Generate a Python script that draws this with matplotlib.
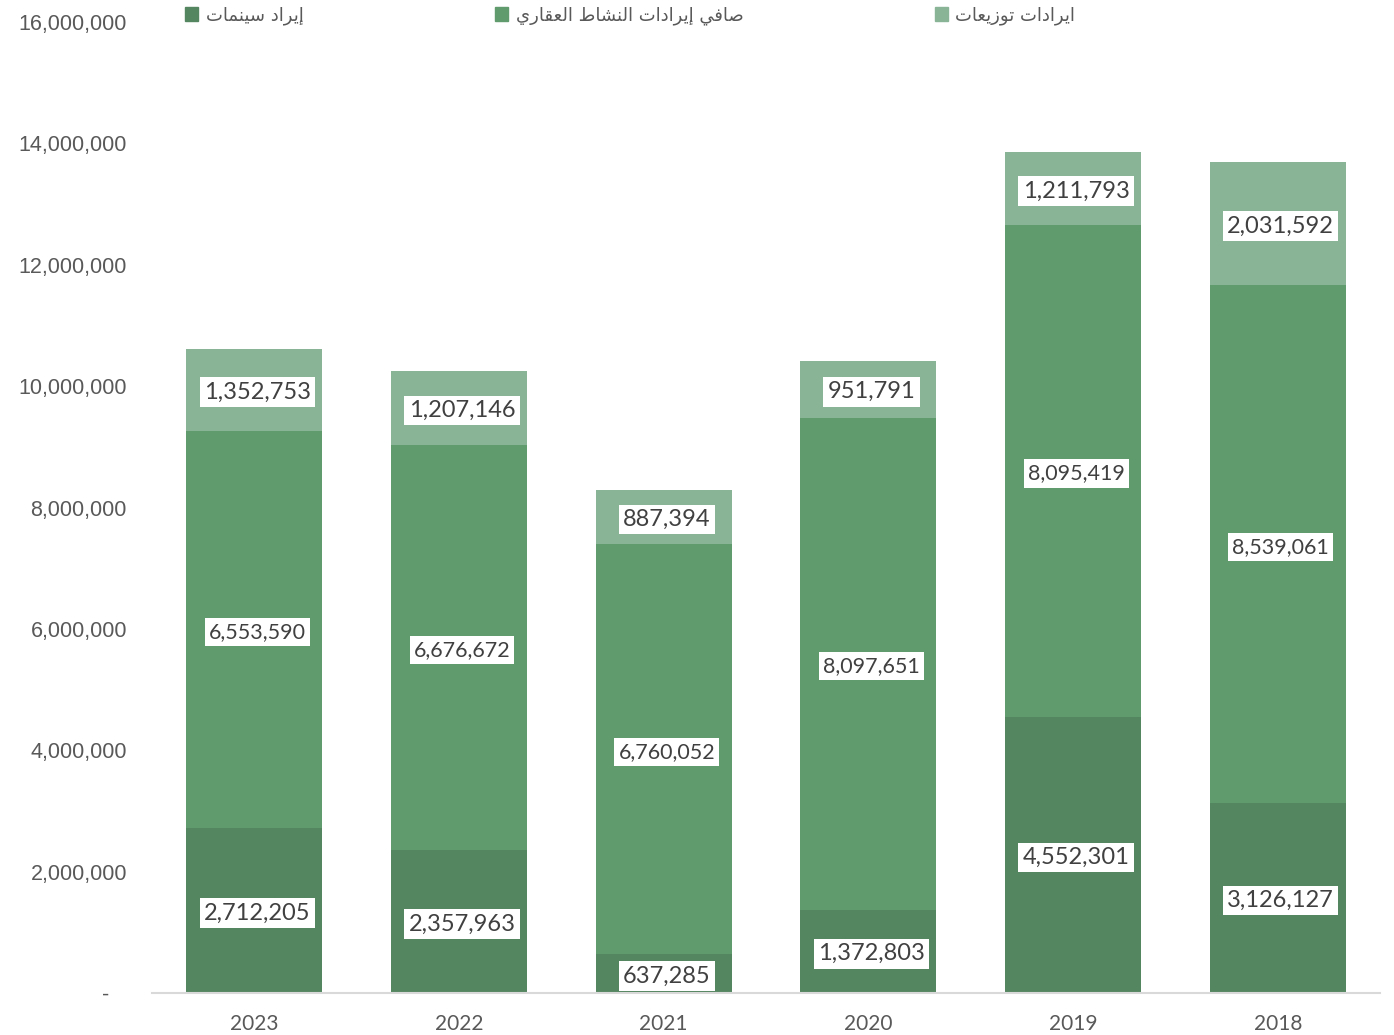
import numpy as np
import matplotlib
matplotlib.use("Agg")
import matplotlib.pyplot as plt
from matplotlib.patches import Patch

# data
years = ["2023", "2022", "2021", "2020", "2019", "2018"]
cinema = [2712205, 2357963, 637285, 1372803, 4552301, 3126127]
real_estate = [6553590, 6676672, 6760052, 8097651, 8095419, 8539061]
distributions = [1352753, 1207146, 887394, 951791, 1211793, 2031592]
series_names = ["إيراد سينمات", "صافي إيرادات النشاط العقاري", "ايرادات توزيعات"]
colors = ["#548660", "#5f9b6c", "#89b596"]
yticks = [0, 2000000, 4000000, 6000000, 8000000, 10000000, 12000000, 14000000, 16000000]

# matplotlib has no Arabic shaping, so map letters to presentation forms by hand
FORMS = {  # isolated, final, initial, medial
    "ا": ("\uFE8D", "\uFE8E", None, None),
    "إ": ("\uFE87", "\uFE88", None, None),
    "د": ("\uFEA9", "\uFEAA", None, None),
    "ر": ("\uFEAD", "\uFEAE", None, None),
    "ز": ("\uFEAF", "\uFEB0", None, None),
    "و": ("\uFEED", "\uFEEE", None, None),
    "ي": ("\uFEF1", "\uFEF2", "\uFEF3", "\uFEF4"),
    "س": ("\uFEB1", "\uFEB2", "\uFEB3", "\uFEB4"),
    "ش": ("\uFEB5", "\uFEB6", "\uFEB7", "\uFEB8"),
    "ص": ("\uFEB9", "\uFEBA", "\uFEBB", "\uFEBC"),
    "ط": ("\uFEC1", "\uFEC2", "\uFEC3", "\uFEC4"),
    "ع": ("\uFEC9", "\uFECA", "\uFECB", "\uFECC"),
    "ف": ("\uFED1", "\uFED2", "\uFED3", "\uFED4"),
    "ق": ("\uFED5", "\uFED6", "\uFED7", "\uFED8"),
    "ل": ("\uFEDD", "\uFEDE", "\uFEDF", "\uFEE0"),
    "م": ("\uFEE1", "\uFEE2", "\uFEE3", "\uFEE4"),
    "ن": ("\uFEE5", "\uFEE6", "\uFEE7", "\uFEE8"),
    "ت": ("\uFE95", "\uFE96", "\uFE97", "\uFE98"),
}


def shape(text):
    out = []
    for i, ch in enumerate(text):
        if ch not in FORMS:
            out.append(ch)
            continue
        prev = text[i - 1] if i > 0 else ""
        nxt = text[i + 1] if i + 1 < len(text) else ""
        joins_prev = prev in FORMS and FORMS[prev][2] is not None
        joins_next = FORMS[ch][2] is not None and nxt in FORMS
        iso, fin, ini, med = FORMS[ch]
        if joins_prev and joins_next:
            out.append(med)
        elif joins_prev:
            out.append(fin)
        elif joins_next:
            out.append(ini)
        else:
            out.append(iso)
    return "".join(out)[::-1]


fig = plt.figure(figsize=(13.94, 10.35), dpi=100)
ax = fig.add_axes([0.109, 0.0406, 0.881, 0.9381])

x = np.arange(len(years))
width = 0.663
bottom = np.zeros(len(years))
layers = [cinema, real_estate, distributions]
label_sizes = [17, 15.5, 17]
for vals, col, name, fs in zip(layers, colors, series_names, label_sizes):
    vals = np.array(vals)
    ax.bar(x, vals, width, bottom=bottom, color=col, label=shape(name))
    for xi, b, v in zip(x, bottom, vals):
        ax.text(xi + 0.015, b + v / 2 - 40000, f"{v:,}", ha="center", va="center",
                fontsize=fs, color="#404040", family="Lato",
                bbox=dict(facecolor="white", edgecolor="none", pad=3))
    bottom += vals

ax.set_xlim(-0.5, 5.5)
ax.set_ylim(0, 16000000)
ax.set_xticks(x)
ax.set_xticklabels(years, fontsize=15, color="#595959", family="Lato")
ax.set_yticks(yticks)
ax.set_yticklabels(["-   "] + [f"{t:,}" for t in yticks[1:]],
                   fontsize=15.5, color="#595959", family="Liberation Sans")
ax.tick_params(axis="y", length=0, pad=18)
ax.tick_params(axis="x", length=0, pad=15)
for s in ["top", "right", "left"]:
    ax.spines[s].set_visible(False)
ax.spines["bottom"].set_color("#d9d9d9")
ax.spines["bottom"].set_linewidth(1.5)

handles = [Patch(color=c) for c in colors]
fig.legend(handles, [shape(n) for n in series_names], loc="center left",
           bbox_to_anchor=(0.121, 0.985), ncol=3, frameon=False,
           prop={"family": "DejaVu Sans", "size": 13}, handlelength=0.75,
           handleheight=0.75, handletextpad=0.4, columnspacing=10.6,
           labelcolor="#595959")

fig.savefig("out.png", dpi=100)
